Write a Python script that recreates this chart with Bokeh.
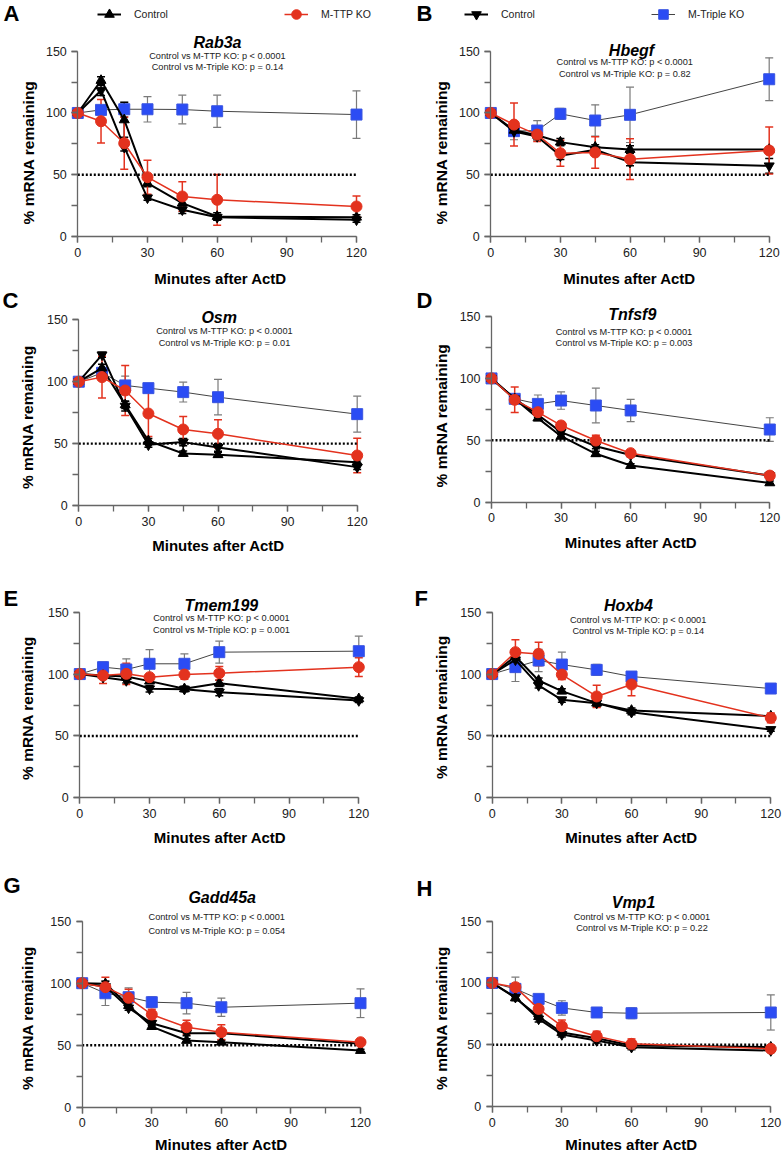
from math import pi
from bokeh.plotting import figure
from bokeh.layouts import column, row
from bokeh.models import (ColumnDataSource, Whisker, TeeHead, LinearAxis,
                          SingleIntervalTicker, Range1d, Legend, LegendItem)
from bokeh.core.properties import value
from bokeh.embed import file_html
from bokeh.resources import INLINE

# ---------------- data ----------------
MINUTES = [0, 10, 20, 30, 45, 60, 120]
HALF_LEVEL = 50
GENES = ["Rab3a", "Hbegf", "Osm", "Tnfsf9", "Tmem199", "Hoxb4", "Gadd45a", "Vmp1"]
LETTERS = ["A", "B", "C", "D", "E", "F", "G", "H"]
P_TTP = ["p < 0.0001"] * 8
P_TRIPLE = ["p = 0.14", "p = 0.82", "p = 0.01", "p = 0.003",
            "p = 0.001", "p = 0.14", "p = 0.054", "p = 0.22"]

# Control (TTP experiment, up-triangle), Control (Triple experiment, down-triangle),
# M-TTP KO (red), M-Triple KO (blue); mean and error
RAB3A_CTRL1 = [100, 126.3, 94.4, 43.2, 27.0, 16.2, 15.6]
RAB3A_CTRL1_ERR = [0, 3, 14, 3, 4, 3, 2]
RAB3A_CTRL2 = [100, 118.2, 72.3, 31.3, 21.6, 15.6, 13.5]
RAB3A_CTRL2_ERR = [0, 4, 3, 2, 3, 2, 2]
RAB3A_TTP = [100, 93.3, 75.5, 48.0, 32.4, 29.7, 24.3]
RAB3A_TTP_ERR = [0, 17.7, 21, 13.7, 12, 20.5, 8.4]
RAB3A_TRIPLE = [100, 102.5, 103, 103, 102.8, 101.4, 98.7]
RAB3A_TRIPLE_ERR = [0, 2, 6, 10.3, 11.6, 13, 19.2]

HBEGF_CTRL1 = [100, 86, 82, 76.4, 72.3, 70.4, 70.4]
HBEGF_CTRL1_ERR = [0, 3, 2, 3, 2, 3, 2]
HBEGF_CTRL2 = [100, 85, 81, 65.3, 70.2, 60.2, 57.2]
HBEGF_CTRL2_ERR = [0, 2, 2, 3, 2, 3, 6]
HBEGF_TTP = [100, 90.6, 82.5, 67.4, 68, 62.6, 69.6]
HBEGF_TTP_ERR = [0, 17.4, 5.5, 10.5, 12.8, 16.5, 19]
HBEGF_TRIPLE = [100, 85.3, 85.8, 99.3, 93.9, 98.5, 127.3]
HBEGF_TRIPLE_ERR = [0, 7, 8, 4.5, 12.7, 22.4, 17.3]

OSM_CTRL1 = [100, 111, 81.3, 52.2, 42, 41, 35]
OSM_CTRL1_ERR = [0, 3, 3, 2, 2, 2, 2]
OSM_CTRL2 = [100, 121.7, 80.3, 49, 51.2, 46.9, 31]
OSM_CTRL2_ERR = [0, 2, 4, 2, 3, 3, 2]
OSM_TTP = [100, 103.7, 92.9, 74.3, 61.4, 57.9, 40.4]
OSM_TTP_ERR = [0, 16.8, 20.2, 18.5, 10.5, 11.4, 14]
OSM_TRIPLE = [100, 107.2, 97, 94.8, 91.6, 87.5, 73.8]
OSM_TRIPLE_ERR = [0, 4, 7.5, 3, 8, 14.3, 14.5]

TNFSF9_CTRL1 = [100, 83.5, 67.9, 53.3, 39.1, 29.6, 15.6]
TNFSF9_CTRL1_ERR = [0, 2, 2, 2, 2, 1.5, 1.5]
TNFSF9_CTRL2 = [100, 83.5, 70.6, 56.6, 45.2, 38.2, 21.5]
TNFSF9_CTRL2_ERR = [0, 2, 2, 2, 2, 1.5, 3]
TNFSF9_TTP = [100, 82.7, 72.7, 62, 49.8, 39.6, 21.5]
TNFSF9_TTP_ERR = [0, 10.3, 2.7, 3, 4.3, 1.5, 1.5]
TNFSF9_TRIPLE = [100, 83.5, 79.4, 82.1, 78.1, 74.1, 58.7]
TNFSF9_TRIPLE_ERR = [0, 3, 7.2, 7, 14, 9, 9.5]

TMEM199_CTRL1 = [100, 98.8, 98, 94.3, 88.1, 92.6, 80]
TMEM199_CTRL1_ERR = [0, 1.5, 2, 2, 2, 2.5, 1.5]
TMEM199_CTRL2 = [100, 97.5, 94.8, 88.1, 87.8, 85.4, 78.6]
TMEM199_CTRL2_ERR = [0, 1.5, 2, 2.5, 2, 3, 1.5]
TMEM199_TTP = [100, 98.8, 100.2, 97.5, 99.6, 100.7, 105.6]
TMEM199_TTP_ERR = [0, 6.5, 8.6, 2, 3.7, 5.4, 7.5]
TMEM199_TRIPLE = [100, 105.6, 103.7, 108.3, 108.3, 117.7, 118.5]
TMEM199_TRIPLE_ERR = [0, 4, 8.6, 11.5, 8, 8.9, 12.1]

HOXB4_CTRL1 = [100, 114.2, 94.8, 86.2, 76.5, 70.6, 66]
HOXB4_CTRL1_ERR = [0, 2, 2, 2, 2, 2, 1.5]
HOXB4_CTRL2 = [100, 111.5, 90.8, 79.2, 76.5, 69.2, 55.2]
HOXB4_CTRL2_ERR = [0, 2, 2, 2, 3, 2, 1.5]
HOXB4_TTP = [100, 117.7, 116.3, 99.6, 81.9, 91.6, 64.6]
HOXB4_TTP_ERR = [0, 10, 9.5, 4, 9, 9.2, 4]
HOXB4_TRIPLE = [100, 105.6, 111, 107.7, 103.4, 98, 88.3]
HOXB4_TRIPLE_ERR = [0, 11.6, 9, 10, 4.5, 3, 1.5]

GADD45A_CTRL1 = [100, 99.5, 82, 65, 53.8, 52.4, 45.7]
GADD45A_CTRL1_ERR = [0, 2, 2, 2, 1.5, 1.5, 1]
GADD45A_CTRL2 = [100, 97.3, 80.1, 67.7, 59.7, 59.7, 51.1]
GADD45A_CTRL2_ERR = [0, 2, 2, 2, 2, 2, 1]
GADD45A_TTP = [100, 96.8, 88.2, 74.7, 64.5, 60.5, 52.4]
GADD45A_TTP_ERR = [0, 8, 7, 4.3, 5.7, 6, 1.5]
GADD45A_TRIPLE = [100, 91.9, 88.7, 84.7, 83.9, 80.6, 83.9]
GADD45A_TRIPLE_ERR = [0, 9.9, 7.5, 4.3, 8.7, 7.4, 11.6]

VMP1_CTRL1 = [100, 87.9, 72.8, 59.9, 55.3, 49.4, 48]
VMP1_CTRL1_ERR = [0, 2, 2, 2, 2, 1.5, 1.5]
VMP1_CTRL2 = [100, 88.5, 70.9, 58.3, 53.4, 48, 45.3]
VMP1_CTRL2_ERR = [0, 2, 2.5, 2, 2, 2, 1.5]
VMP1_TTP = [100, 96.6, 79, 65, 56.9, 50.7, 46.7]
VMP1_TTP_ERR = [0, 3, 8, 5, 4, 4, 2]
VMP1_TRIPLE = [100, 95.2, 87.1, 79.8, 76.1, 75.5, 76.1]
VMP1_TRIPLE_ERR = [0, 9.5, 3, 5.8, 2, 4.4, 14.2]

SERIES = [
    (RAB3A_CTRL1, RAB3A_CTRL1_ERR, RAB3A_CTRL2, RAB3A_CTRL2_ERR, RAB3A_TTP, RAB3A_TTP_ERR, RAB3A_TRIPLE, RAB3A_TRIPLE_ERR),
    (HBEGF_CTRL1, HBEGF_CTRL1_ERR, HBEGF_CTRL2, HBEGF_CTRL2_ERR, HBEGF_TTP, HBEGF_TTP_ERR, HBEGF_TRIPLE, HBEGF_TRIPLE_ERR),
    (OSM_CTRL1, OSM_CTRL1_ERR, OSM_CTRL2, OSM_CTRL2_ERR, OSM_TTP, OSM_TTP_ERR, OSM_TRIPLE, OSM_TRIPLE_ERR),
    (TNFSF9_CTRL1, TNFSF9_CTRL1_ERR, TNFSF9_CTRL2, TNFSF9_CTRL2_ERR, TNFSF9_TTP, TNFSF9_TTP_ERR, TNFSF9_TRIPLE, TNFSF9_TRIPLE_ERR),
    (TMEM199_CTRL1, TMEM199_CTRL1_ERR, TMEM199_CTRL2, TMEM199_CTRL2_ERR, TMEM199_TTP, TMEM199_TTP_ERR, TMEM199_TRIPLE, TMEM199_TRIPLE_ERR),
    (HOXB4_CTRL1, HOXB4_CTRL1_ERR, HOXB4_CTRL2, HOXB4_CTRL2_ERR, HOXB4_TTP, HOXB4_TTP_ERR, HOXB4_TRIPLE, HOXB4_TRIPLE_ERR),
    (GADD45A_CTRL1, GADD45A_CTRL1_ERR, GADD45A_CTRL2, GADD45A_CTRL2_ERR, GADD45A_TTP, GADD45A_TTP_ERR, GADD45A_TRIPLE, GADD45A_TRIPLE_ERR),
    (VMP1_CTRL1, VMP1_CTRL1_ERR, VMP1_CTRL2, VMP1_CTRL2_ERR, VMP1_TTP, VMP1_TTP_ERR, VMP1_TRIPLE, VMP1_TRIPLE_ERR),
]

# ---------------- layout (page pixel positions) ----------------
# box: (left, top, width, height); axes: (px of x=0, px of x=120, py of y=150, py of y=0)
LAYOUT = [
    dict(box=(0, 0, 391, 289), axes=(77.3, 356.0, 50.7, 236.0), letter=(3, 13), title=(217, 41.7),
         ptxt=(217, 55, 66.7), ylab=(28, 152), xlab=(220, 277.7)),
    dict(box=(391, 0, 391, 289), axes=(490.3, 768.7, 50.7, 236.0), letter=(416, 13), title=(631, 50),
         ptxt=(624.3, 61.7, 73.3), ylab=(441, 152), xlab=(629, 277.7)),
    dict(box=(0, 289, 391, 287), axes=(78.3, 356.7, 319.3, 505.0), letter=(2, 300), title=(218.7, 317.3),
         ptxt=(224, 330.7, 342.3), ylab=(27, 416.7), xlab=(218, 545)),
    dict(box=(391, 289, 391, 287), axes=(491.0, 769.3, 316.0, 501.7), letter=(416, 300), title=(631.8, 314),
         ptxt=(623.5, 331.7, 342.3), ylab=(441, 415), xlab=(630.5, 541.7)),
    dict(box=(0, 576, 391, 290), axes=(79.3, 358.3, 611.7, 797.3), letter=(3, 598), title=(220.8, 605),
         ptxt=(221, 617.7, 629.3), ylab=(27, 707.5), xlab=(219.5, 836.7)),
    dict(box=(391, 576, 391, 290), axes=(491.7, 770.3, 611.7, 797.3), letter=(414, 598), title=(628, 605),
         ptxt=(637.7, 619, 630), ylab=(441, 706.7), xlab=(631, 836.7)),
    dict(box=(0, 866, 391, 287), axes=(81.7, 360.0, 920.7, 1106.7), letter=(3, 885), title=(221.7, 896.7),
         ptxt=(216.3, 916.7, 930), ylab=(27, 1017.5), xlab=(220.8, 1143.5)),
    dict(box=(391, 866, 391, 287), axes=(491.7, 770.3, 920.7, 1106.0), letter=(416, 888), title=(633, 902),
         ptxt=(641.5, 916.7, 927.5), ylab=(441, 1017.5), xlab=(631, 1143.5)),
]

FONT = "Liberation Sans"
RED = "#E3321E"
BLUE = "#2B4CF4"
BLACK = "#000000"
AXIS_COL = "#666666"
ERR_GRAY = "#7a7a7a"


def add_series(p, y, err, color, line_color, line_width, marker, size,
               fill, err_color, err_width):
    src = ColumnDataSource(dict(
        x=MINUTES, y=y,
        upper=[v + e for v, e in zip(y, err)],
        lower=[v - e for v, e in zip(y, err)]))
    wh = Whisker(source=src, base="x", upper="upper", lower="lower",
                 line_color=err_color, line_width=err_width,
                 upper_head=TeeHead(size=8, line_color=err_color, line_width=err_width),
                 lower_head=TeeHead(size=8, line_color=err_color, line_width=err_width))
    p.add_layout(wh)
    ln = p.line("x", "y", source=src, line_color=line_color, line_width=line_width)
    sc = p.scatter("x", "y", source=src, marker=marker, size=size,
                   fill_color=fill, line_color=color, line_width=1)
    return ln, sc


def make_panel(i):
    lay = LAYOUT[i]
    L, T, W, H = lay["box"]
    px0, px120, py150, py0 = lay["axes"]
    sx = (px120 - px0) / 120.0
    sy = (py0 - py150) / 150.0

    def dx(r):
        return (r - px0) / sx

    def dy(r):
        return (py0 - r) / sy

    p = figure(width=W, height=H,
               x_range=Range1d((L - px0) / sx, (L + W - px0) / sx),
               y_range=Range1d((py0 - (T + H)) / sy, (py0 - T) / sy),
               x_axis_type=None, y_axis_type=None, toolbar_location=None,
               output_backend="svg", min_border=0, title=None)
    p.outline_line_color = None
    p.background_fill_color = "white"

    xa = LinearAxis(fixed_location=0, bounds=(0, 120),
                    ticker=SingleIntervalTicker(interval=30, num_minor_ticks=2))
    ya = LinearAxis(fixed_location=0, bounds=(0, 150),
                    ticker=SingleIntervalTicker(interval=50, num_minor_ticks=2))
    for ax in (xa, ya):
        ax.axis_line_color = AXIS_COL
        ax.axis_line_width = 1.3
        ax.major_tick_line_color = AXIS_COL
        ax.minor_tick_line_color = AXIS_COL
        ax.major_tick_line_width = 1.3
        ax.minor_tick_line_width = 1.3
        ax.major_tick_out = 6
        ax.major_tick_in = 0
        ax.minor_tick_out = 6
        ax.minor_tick_in = 0
        ax.major_label_text_font = FONT
        ax.major_label_text_font_size = "12.5px"
        ax.major_label_text_color = "#222222"
        ax.major_label_standoff = 5
    p.add_layout(xa, "below")
    p.add_layout(ya, "left")

    # 50 % reference
    p.line([MINUTES[0], MINUTES[-1]], [HALF_LEVEL, HALF_LEVEL], line_color=BLACK,
           line_width=2.4, line_dash="2 2")

    c1, c1e, c2, c2e, ttp, ttpe, tri, trie = SERIES[i]
    r_tri = add_series(p, tri, trie, "#3a55e0", "#444444", 1, "square", 11,
                       BLUE, ERR_GRAY, 1.2)
    r_c2 = add_series(p, c2, c2e, BLACK, BLACK, 2, "inverted_triangle", 10,
                      BLACK, BLACK, 1.5)
    r_c1 = add_series(p, c1, c1e, BLACK, BLACK, 2, "triangle", 10,
                      BLACK, BLACK, 1.5)
    r_ttp = add_series(p, ttp, ttpe, RED, RED, 1.5, "circle", 11,
                       RED, RED, 1.5)

    # texts
    p.text(x=[dx(lay["letter"][0])], y=[dy(lay["letter"][1])], text=[LETTERS[i]],
           text_font=value(FONT), text_font_style="bold", text_font_size="22px",
           text_align="left", text_baseline="middle", text_color=BLACK)
    p.text(x=[dx(lay["title"][0])], y=[dy(lay["title"][1])], text=[GENES[i]],
           text_font=value(FONT), text_font_style="bold italic", text_font_size="16px",
           text_align="center", text_baseline="middle", text_color=BLACK)
    ptx, p1y, p2y = lay["ptxt"]
    p.text(x=[dx(ptx), dx(ptx)], y=[dy(p1y), dy(p2y)],
           text=["Control vs M-TTP KO: " + P_TTP[i],
                 "Control vs M-Triple KO: " + P_TRIPLE[i]],
           text_font=value(FONT), text_font_size="9.2px",
           text_align="center", text_baseline="middle", text_color="#222222")
    p.text(x=[dx(lay["ylab"][0])], y=[dy(lay["ylab"][1])], text=["% mRNA remaining"],
           angle=pi / 2, text_font=value(FONT), text_font_style="bold",
           text_font_size="15.5px", text_align="center", text_baseline="middle",
           text_color=BLACK)
    p.text(x=[dx(lay["xlab"][0])], y=[dy(lay["xlab"][1])], text=["Minutes after ActD"],
           text_font=value(FONT), text_font_style="bold", text_font_size="15px",
           text_align="center", text_baseline="middle", text_color=BLACK)
    return p, (r_c1, r_c2, r_ttp, r_tri), (L, T, W, H)


def add_legend(p, box, label, renderers, left_px, center_py):
    L, T, W, H = box
    gh = 24
    leg = Legend(items=[LegendItem(label=label, renderers=list(renderers))],
                 location=(left_px - L, (T + H) - (center_py + gh / 2)),
                 orientation="horizontal", padding=0, margin=0, spacing=0,
                 glyph_width=24, glyph_height=gh, label_height=gh,
                 label_standoff=13, border_line_color=None,
                 background_fill_alpha=0, label_text_font=FONT,
                 label_text_font_size="10.5px", label_text_color="#222222")
    p.add_layout(leg)


panels = [make_panel(i) for i in range(8)]

pA, rA, boxA = panels[0]
pB, rB, boxB = panels[1]
add_legend(pA, boxA, "Control", rA[0], 97, 14)
add_legend(pA, boxA, "M-TTP KO", rA[2], 284, 14)
add_legend(pB, boxB, "Control", rB[1], 464, 14)
add_legend(pB, boxB, "M-Triple KO", rB[3], 651, 14)

layout = column(*[row(panels[2 * k][0], panels[2 * k + 1][0]) for k in range(4)])

open("out.html", "w").write(file_html(layout, INLINE))
